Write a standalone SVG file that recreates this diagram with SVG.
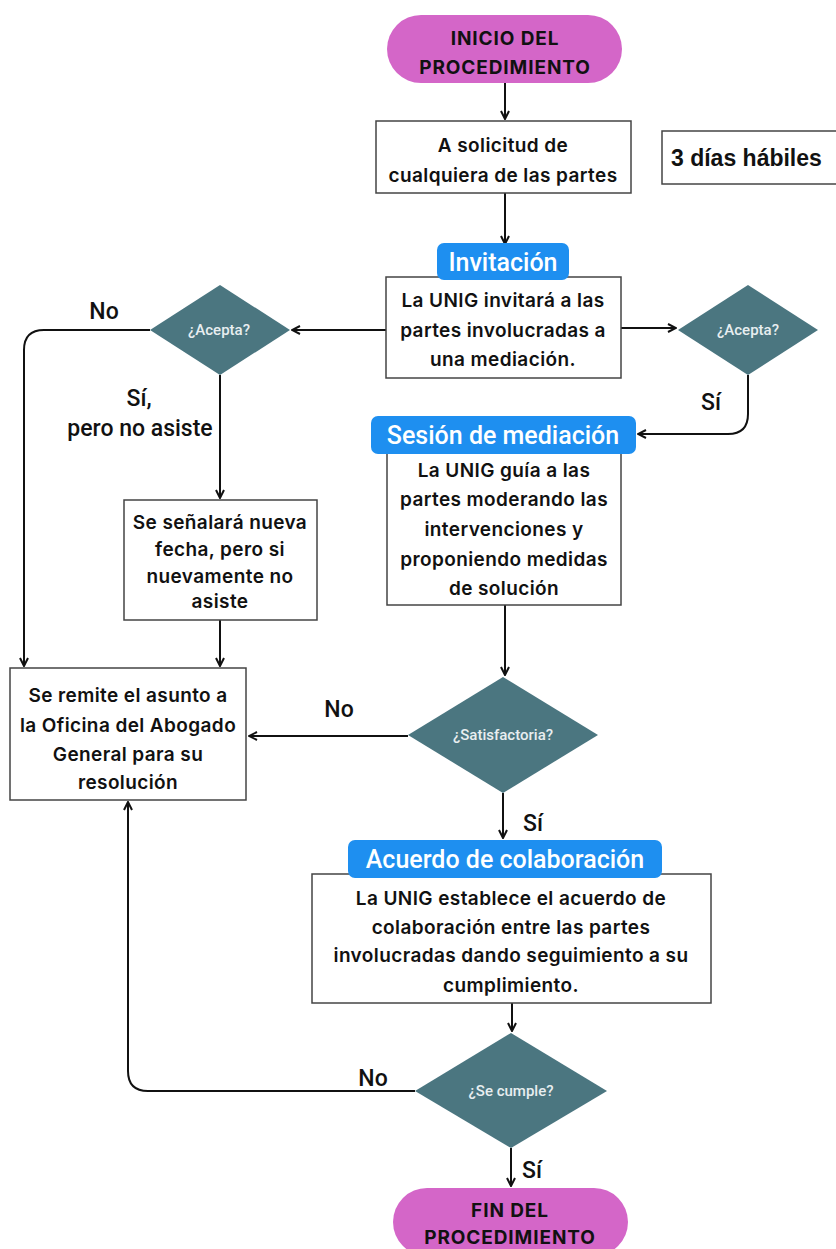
<svg xmlns="http://www.w3.org/2000/svg" width="836" height="1249" viewBox="0 0 836 1249">
<style>
.box{fill:#fff;stroke:#444;stroke-width:1.5}
.pill{fill:#d466c8}
.tag{fill:#1e8ff0}
.dia{fill:#4b7680}
.t{font-family:Inter,"Noto Sans",sans-serif;font-weight:600;font-size:19px;letter-spacing:0.4px;fill:#111;text-anchor:middle}
.tp{font-family:Inter,"Noto Sans",sans-serif;font-weight:700;font-size:19px;letter-spacing:0.9px;fill:#111;text-anchor:middle}
.tt{font-family:Roboto,"Liberation Sans",sans-serif;font-weight:500;font-size:25px;fill:#fff;text-anchor:middle}
.td{font-family:Roboto,"Liberation Sans",sans-serif;font-weight:500;font-size:15px;fill:#e8eef0;text-anchor:middle}
.lb{font-family:Roboto,"Liberation Sans",sans-serif;font-weight:500;font-size:23px;fill:#111;text-anchor:middle}
.c{fill:none;stroke:#111;stroke-width:2}
</style>
<defs>
<marker id="a" markerWidth="10" markerHeight="10" refX="9" refY="5" orient="auto" markerUnits="userSpaceOnUse">
<path d="M1,1 L9,5 L1,9" fill="none" stroke="#111" stroke-width="2"/>
</marker>
</defs>
<rect width="836" height="1249" fill="#fff"/>

<g id="connectors">
<path class="c" d="M505,83 V119" marker-end="url(#a)"/>
<path class="c" d="M505,193 V244" marker-end="url(#a)"/>
<path class="c" d="M386,330 H292" marker-end="url(#a)"/>
<path class="c" d="M621,328 H676" marker-end="url(#a)"/>
<path class="c" d="M150,330 H44 Q24,330 24,350 V666" marker-end="url(#a)"/>
<path class="c" d="M220,375 V498" marker-end="url(#a)"/>
<path class="c" d="M220,620 V666" marker-end="url(#a)"/>
<path class="c" d="M748,375 V414 Q748,434 728,434 H638" marker-end="url(#a)"/>
<path class="c" d="M505,605 V675" marker-end="url(#a)"/>
<path class="c" d="M408,736 H249" marker-end="url(#a)"/>
<path class="c" d="M503,793 V838" marker-end="url(#a)"/>
<path class="c" d="M512,1003 V1031" marker-end="url(#a)"/>
<path class="c" d="M415,1091 H148 Q128,1091 128,1071 V802" marker-end="url(#a)"/>
<path class="c" d="M511,1148 V1186" marker-end="url(#a)"/>
<text class="lb" x="104" y="319">No</text>
<text class="lb" x="139" y="406">Sí,</text>
<text class="lb" x="140" y="436">pero no asiste</text>
<text class="lb" x="711" y="410">Sí</text>
<text class="lb" x="339" y="717">No</text>
<text class="lb" x="533" y="831">Sí</text>
<text class="lb" x="373" y="1086">No</text>
<text class="lb" x="532" y="1178">Sí</text>
</g>

<g id="inicio">
<rect class="pill" x="387" y="15" width="235" height="68" rx="34"/>
<text class="tp" x="505" y="45">INICIO DEL</text>
<text class="tp" x="505" y="74">PROCEDIMIENTO</text>
</g>

<g id="solicitud">
<rect class="box" x="376" y="121" width="255" height="72"/>
<text class="t" x="503" y="152">A solicitud de</text>
<text class="t" x="503" y="182">cualquiera de las partes</text>
</g>

<g id="plazo">
<rect class="box" x="662" y="131" width="180" height="53"/>
<text x="671" y="166" font-family="'Liberation Sans',Arial,sans-serif" font-weight="700" font-size="23" fill="#111">3 días hábiles</text>
</g>

<g id="invitacion">
<rect class="box" x="386" y="277" width="235" height="101"/>
<rect class="tag" x="437" y="243" width="132" height="37" rx="7"/>
<text class="tt" x="503" y="271">Invitación</text>
<text class="t" x="503" y="307">La UNIG invitará a las</text>
<text class="t" x="503" y="337">partes involucradas a</text>
<text class="t" x="503" y="366">una mediación.</text>
</g>

<g id="acepta-izq">
<polygon class="dia" points="220,285 290,330 220,375 150,330"/>
<text class="td" x="219" y="335">¿Acepta?</text>
</g>

<g id="acepta-der">
<polygon class="dia" points="748,285 818,330 748,375 678,330"/>
<text class="td" x="748" y="335">¿Acepta?</text>
</g>

<g id="nueva-fecha">
<rect class="box" x="124" y="500" width="193" height="120"/>
<text class="t" x="220" y="529">Se señalará nueva</text>
<text class="t" x="220" y="556">fecha, pero si</text>
<text class="t" x="220" y="583">nuevamente no</text>
<text class="t" x="220" y="608">asiste</text>
</g>

<g id="sesion">
<rect class="box" x="387" y="452" width="234" height="153"/>
<rect class="tag" x="371" y="416" width="265" height="38" rx="7"/>
<text class="tt" x="503" y="444">Sesión de mediación</text>
<text class="t" x="504" y="477">La UNIG guía a las</text>
<text class="t" x="504" y="506">partes moderando las</text>
<text class="t" x="504" y="536">intervenciones y</text>
<text class="t" x="504" y="566">proponiendo medidas</text>
<text class="t" x="504" y="595">de solución</text>
</g>

<g id="remite">
<rect class="box" x="10" y="668" width="236" height="132"/>
<text class="t" x="128" y="702">Se remite el asunto a</text>
<text class="t" x="128" y="732">la Oficina del Abogado</text>
<text class="t" x="128" y="761">General para su</text>
<text class="t" x="128" y="789">resolución</text>
</g>

<g id="satisfactoria">
<polygon class="dia" points="503,677 598,735 503,793 408,735"/>
<text class="td" x="503" y="740">¿Satisfactoria?</text>
</g>

<g id="acuerdo">
<rect class="box" x="312" y="874" width="399" height="129"/>
<rect class="tag" x="348" y="840" width="314" height="38" rx="7"/>
<text class="tt" x="505" y="868">Acuerdo de colaboración</text>
<text class="t" x="511" y="905">La UNIG establece el acuerdo de</text>
<text class="t" x="511" y="934">colaboración entre las partes</text>
<text class="t" x="511" y="962">involucradas dando seguimiento a su</text>
<text class="t" x="511" y="992">cumplimiento.</text>
</g>

<g id="cumple">
<polygon class="dia" points="511,1033 607,1091 511,1148 415,1091"/>
<text class="td" x="511" y="1096">¿Se cumple?</text>
</g>

<g id="fin">
<rect class="pill" x="393" y="1188" width="235" height="68" rx="34"/>
<text class="tp" x="510" y="1217">FIN DEL</text>
<text class="tp" x="510" y="1244">PROCEDIMIENTO</text>
</g>
</svg>
